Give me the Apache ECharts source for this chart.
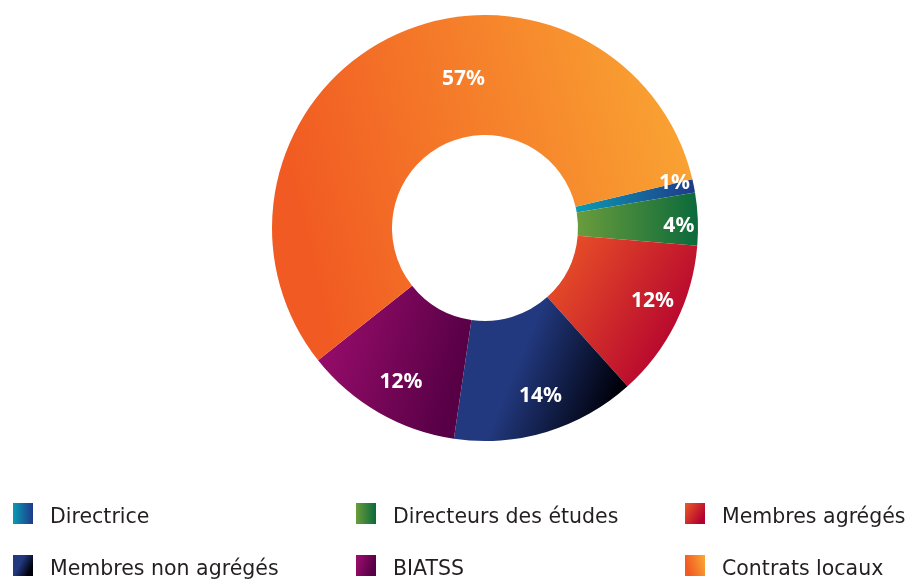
<!DOCTYPE html>
<html>
<head>
<meta charset="utf-8">
<script src="https://cdn.jsdelivr.net/npm/echarts@6/dist/echarts.min.js"></script>
<style>html,body{margin:0;padding:0;background:#fff}#c{width:913px;height:580px}</style>
</head>
<body>
<div id="c"></div>
<script>
const categories = ['Directrice', 'Directeurs des études', 'Membres agrégés', 'Membres non agrégés', 'BIATSS', 'Contrats locaux'];
const values = [1, 4, 12, 14, 12, 57];
const gradients = [
  [[0, '#0a9bb2'], [1, '#1f3a8a']],
  [[0, '#6a9c3c'], [1, '#0b6a3b']],
  [[0, '#ee5a26'], [1, '#b3002f']],
  [[0, '#22397f'], [0.45, '#22397f'], [1, '#00000a']],
  [[0, '#a00e6f'], [1, '#570046']],
  [[0, '#f15a22'], [1, '#faa934']]
];
const dirs = [[0,0,1,0],[0,0,1,0],[0,0,1,0.6],[0,0,1,0.5],[0,0,1,0.3],[0,0.3,1,0]];
// label nudges relative to the sector mid-angle position
const labelNudge = [[15, -10], [16, 5], [8, -6], [4, -2], [5, 0], [56, 11]];
// legend grid slots: [left, top]
const legendSlots = [[13, 503], [356, 503], [685, 503], [13, 555], [356, 555], [685, 555]];
const legendOrder = [0, 1, 2, 3, 4, 5];

function grad(i) {
  const d = dirs[i];
  return new echarts.graphic.LinearGradient(d[0], d[1], d[2], d[3], gradients[i].map(s => ({offset: s[0], color: s[1]})));
}
const data = categories.map((n, i) => ({name: n, value: values[i], itemStyle: {color: grad(i)}}));
const chart = echarts.init(document.getElementById('c'), null, {renderer: 'canvas'});
const legends = legendOrder.map((ci, k) => ({
  left: legendSlots[k][0], top: legendSlots[k][1], padding: 0,
  itemWidth: 20, itemHeight: 21, icon: 'rect', selectedMode: false,
  data: [categories[ci]],
  formatter: '{t|{name}}',
  textStyle: {
    fontFamily: 'DejaVu Sans', fontSize: 20.5, color: '#231f20', padding: [0, 0, 0, 12],
    rich: {t: {fontFamily: 'DejaVu Sans', fontSize: 20.5, color: '#231f20', padding: [8, 0, 0, 0]}}
  }
}));
chart.setOption({
  animation: false,
  legend: legends,
  series: [
    {
      type: 'pie', center: [485, 228], radius: [93, 213], startAngle: 13.2, clockwise: true,
      data: data, label: {show: false}, labelLine: {show: false}, silent: true
    },
    {
      type: 'pie', center: [485, 228], radius: [140, 210], startAngle: 13.2, clockwise: true,
      silent: true, legendHoverLink: false,
      data: categories.map((n, i) => ({name: n + ' ', value: values[i]})),
      itemStyle: {color: 'rgba(0,0,0,0)'},
      label: {show: true, position: 'inside', formatter: '{c}%', color: '#fff', fontFamily: 'Noto Sans', fontWeight: 'bold', fontSize: 21},
      labelLayout: function (p) { const n = labelNudge[p.dataIndex]; return {dx: n[0], dy: n[1]}; },
      labelLine: {show: false}
    }
  ]
});
</script>
</body>
</html>
